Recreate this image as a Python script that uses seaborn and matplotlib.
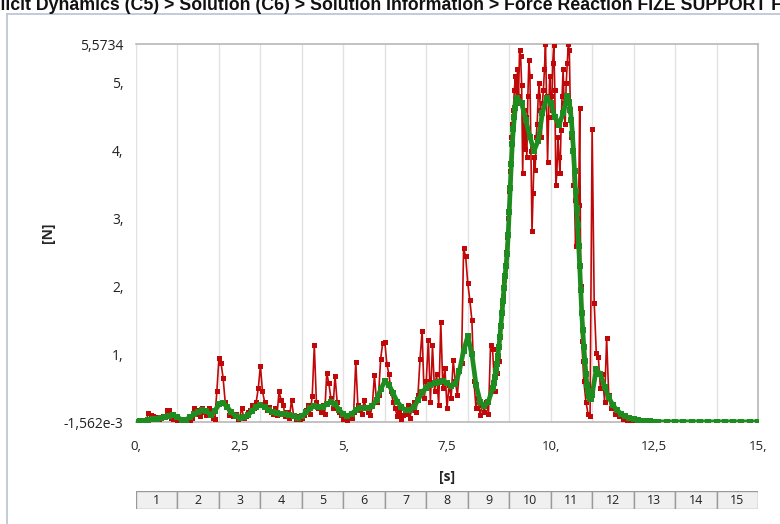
import numpy as np
import pandas as pd
import seaborn as sns
import matplotlib
matplotlib.use("Agg")
import matplotlib.pyplot as plt

# raw force reaction: every 0.05 s up to 8.75 s ...
red_v_a = [
    0.00, 0.00, 0.01, 0.02, 0.03, 0.02, 0.13, 0.10, 0.08, 0.05, 0.07, 0.04, 0.06, 0.09, 0.08, 0.18, 0.17, 0.06, 0.05, 0.04,
    0.02, 0.01, 0.03, 0.01, 0.02, 0.05, 0.03, 0.06, 0.20, 0.12, 0.18, 0.08, 0.21, 0.15, 0.10, 0.20, 0.18, 0.06, 0.04, 0.45,
    0.94, 0.87, 0.65, 0.30, 0.22, 0.10, 0.15, 0.08, 0.12, 0.05, 0.07, 0.20, 0.06, 0.09, 0.14, 0.18, 0.25, 0.20, 0.30, 0.50,
    0.83, 0.45, 0.30, 0.18, 0.22, 0.15, 0.12, 0.20, 0.10, 0.45, 0.32, 0.25, 0.08, 0.14, 0.06, 0.32, 0.10, 0.05, 0.08, 0.04,
    0.06, 0.10, 0.18, 0.25, 0.12, 0.38, 1.13, 0.30, 0.20, 0.15, 0.25, 0.12, 0.72, 0.57, 0.35, 0.20, 0.68, 0.30, 0.15, 0.10,
    0.05, 0.08, 0.03, 0.10, 0.06, 0.15, 0.89, 0.25, 0.18, 0.12, 0.32, 0.20, 0.15, 0.10, 0.25, 0.69, 0.30, 0.40, 0.93, 1.17,
    1.18, 0.85, 0.70, 0.45, 0.30, 0.20, 0.08, 0.15, 0.05, 0.10, 0.12, 0.25, 0.06, 0.18, 0.30, 0.15, 0.40, 0.93, 1.34, 0.35,
    0.60, 1.21, 0.30, 1.13, 0.45, 0.70, 0.25, 1.48, 0.50, 0.80, 0.20, 0.55, 0.35, 0.91, 0.60, 0.40, 0.75, 0.87, 2.56, 2.44,
    2.05, 1.80, 1.50, 0.60, 0.20, 0.35, 0.10, 0.25, 0.15, 0.30, 0.12, 1.13, 1.07, 0.45, 0.72, 0.90,
]
# ... every 0.025 s through the high plateau (8.8 - 10.775 s) ...
red_v_b = [
    1.60, 1.75, 1.85, 2.10, 2.30, 2.50, 2.72, 3.00,
    3.40, 3.70, 4.20, 4.40, 4.60, 4.90, 5.10, 4.70,
    5.20, 4.80, 5.49, 5.40, 4.97, 3.67, 4.60, 4.03,
    4.50, 3.90, 4.80, 5.34, 5.10, 4.00, 2.81, 3.37,
    3.90, 3.71, 4.20, 4.40, 4.80, 5.00, 4.60, 4.20,
    4.70, 4.90, 5.20, 5.57, 4.80, 3.84, 4.50, 5.10,
    4.80, 4.60, 5.30, 5.56, 4.90, 3.50, 3.67, 4.20,
    3.90, 3.67, 4.30, 4.80, 5.20, 4.70, 4.40, 5.00,
    5.30, 5.57, 5.49, 4.58, 4.20, 4.00, 3.50, 3.27,
    2.60, 3.00, 2.60, 3.20, 4.63, 2.00, 1.20, 0.90,
]
# ... and every 0.05 s again from 10.8 to 12.5 s
red_v_c = [
    0.60, 0.30, 0.12, 0.08,
    4.32, 1.76, 1.02, 0.95, 0.50, 0.70, 0.30, 1.23, 0.40, 0.20, 0.25, 0.12, 0.18, 0.08, 0.10, 0.05, 0.07, 0.03, 0.05, 0.02,
    0.03, 0.02, 0.03, 0.01, 0.02, 0.01, 0.01, 0.01, 0.00, 0.00, 0.00,
]
red_t = ([round(i * 0.05, 3) for i in range(len(red_v_a))]
         + [round(8.8 + i * 0.025, 3) for i in range(len(red_v_b))]
         + [round(10.8 + i * 0.05, 3) for i in range(len(red_v_c))])
red_v = red_v_a + red_v_b + red_v_c

# filtered force reaction (denser where it rises and falls fast)
green_t = [
    0.0, 0.1, 0.2, 0.3, 0.4, 0.5, 0.6, 0.7, 0.8, 0.9, 1.0, 1.1, 1.2, 1.3, 1.4, 1.5, 1.6, 1.7, 1.8, 1.9,
    2.0, 2.1, 2.2, 2.3, 2.4, 2.5, 2.6, 2.7, 2.8, 2.9, 3.0, 3.1, 3.2, 3.3, 3.4, 3.5, 3.6, 3.7, 3.8, 3.9,
    4.0, 4.1, 4.2, 4.3, 4.4, 4.5, 4.6, 4.7, 4.8, 4.9, 5.0, 5.1, 5.2, 5.3, 5.4, 5.5, 5.6, 5.7, 5.8, 5.9,
    6.0, 6.1, 6.2, 6.3, 6.4, 6.5, 6.6, 6.7, 6.8, 6.9, 7.0, 7.1, 7.2, 7.3, 7.4, 7.5, 7.6, 7.7, 7.8, 7.9,
    8.0, 8.1, 8.2, 8.3, 8.4, 8.5,
    8.6, 8.625, 8.65, 8.675, 8.7, 8.725, 8.75, 8.775, 8.8, 8.825, 8.85, 8.875, 8.9, 8.925, 8.95, 8.975,
    9.0, 9.025, 9.05, 9.075, 9.1, 9.125, 9.15, 9.175, 9.2,
    9.3, 9.4, 9.5, 9.6, 9.7, 9.8, 9.9, 10.0, 10.1, 10.2, 10.3, 10.4,
    10.45, 10.475, 10.5, 10.525, 10.55, 10.575, 10.6, 10.625, 10.65, 10.675, 10.7, 10.725, 10.75, 10.775,
    10.8, 10.825, 10.85, 10.875, 10.9, 10.925, 10.95, 10.975, 11.0,
    11.1, 11.2, 11.3, 11.4, 11.5, 11.6, 11.7, 11.8, 11.9, 12.0, 12.1, 12.2, 12.3, 12.4, 12.5,
    12.6, 12.8, 13.0, 13.2, 13.4, 13.6, 13.8, 14.0, 14.2, 14.4, 14.6, 14.8, 15.0,
]
green_v = [
    0.00, 0.01, 0.02, 0.03, 0.04, 0.05, 0.06, 0.07, 0.09, 0.10, 0.07, 0.03, 0.03, 0.07, 0.11, 0.14, 0.17, 0.16, 0.10, 0.16,
    0.26, 0.28, 0.22, 0.14, 0.09, 0.06, 0.07, 0.10, 0.16, 0.22, 0.25, 0.22, 0.17, 0.14, 0.13, 0.12, 0.11, 0.10, 0.08, 0.06,
    0.08, 0.14, 0.20, 0.23, 0.22, 0.22, 0.26, 0.29, 0.26, 0.18, 0.11, 0.09, 0.12, 0.17, 0.20, 0.21, 0.21, 0.24, 0.32, 0.48,
    0.60, 0.55, 0.42, 0.30, 0.22, 0.17, 0.17, 0.22, 0.32, 0.44, 0.50, 0.54, 0.57, 0.59, 0.60, 0.57, 0.53, 0.56, 0.75, 1.05,
    1.26, 1.00, 0.55, 0.30, 0.23, 0.30,
    0.50, 0.58, 0.66, 0.75, 0.85, 0.97, 1.10, 1.25, 1.42, 1.60, 1.78, 1.98, 2.15, 2.30, 2.48, 2.75,
    3.10, 3.45, 3.80, 4.10, 4.32, 4.50, 4.63, 4.72, 4.77,
    4.70, 4.45, 4.20, 4.00, 4.15, 4.55, 4.78, 4.70, 4.50, 4.38, 4.55, 4.80,
    4.72, 4.60, 4.45, 4.25, 4.00, 3.70, 3.40, 3.15, 2.90, 2.60, 2.30, 1.95, 1.60, 1.35,
    1.10, 0.90, 0.70, 0.55, 0.45, 0.38, 0.34, 0.34, 0.40,
    0.78, 0.70, 0.52, 0.36, 0.25, 0.17, 0.12, 0.08, 0.06, 0.04, 0.03, 0.02, 0.015, 0.01, 0.005,
    0.0, 0.0, 0.0, 0.0, 0.0, 0.0, 0.0, 0.0, 0.0, 0.0, 0.0, 0.0, 0.0,
]

y_ticks = [-0.001562, 1, 2, 3, 4, 5, 5.5734]
y_labels = ["-1,562e-3", "1,", "2,", "3,", "4,", "5,", "5,5734"]
x_ticks = [0, 2.5, 5, 7.5, 10, 12.5, 15]
x_labels = ["0,", "2,5", "5,", "7,5", "10,", "12,5", "15,"]
steps = list(range(1, 16))

title = "Explicit Dynamics (C5) > Solution (C6) > Solution Information > Force Reaction FIZE SUPPORT FORCE"

sns.set_style("white")
plt.rcParams["font.family"] = ["Open Sans", "DejaVu Sans"]

W, H = 780, 524
fig = plt.figure(figsize=(W / 100, H / 100), dpi=100)

def px(x0, y0, x1, y1):
    return [x0 / W, 1 - y1 / H, (x1 - x0) / W, (y1 - y0) / H]

ax = fig.add_axes(px(136, 44, 758, 422))

red = pd.DataFrame({"t": red_t, "F": red_v})
green = pd.DataFrame({"t": green_t, "F": green_v})
sns.lineplot(data=red, x="t", y="F", ax=ax, color="#c00808", linewidth=1.2,
             marker="s", markersize=3.6, markeredgewidth=0, estimator=None, zorder=3)
sns.lineplot(data=green, x="t", y="F", ax=ax, color="#1e8c1e", linewidth=3.4,
             marker="s", markersize=3.8, markeredgewidth=0, estimator=None, zorder=4)

ax.set_xlim(0, 15)
ax.set_ylim(-0.001562, 5.5734)
for g in range(0, 16):
    ax.axvline(g, color="#e2e2e2", linewidth=1, zorder=1)

ax.set_yticks(y_ticks)
ax.set_yticklabels(y_labels)
ax.set_xticks(x_ticks)
ax.set_xticklabels(x_labels)
ax.tick_params(axis="y", length=5, width=1, color="#909090", labelsize=10, labelcolor="#222222", pad=4)
ax.tick_params(axis="x", length=7, width=1, color="#a0a0a0", labelsize=9.5, labelcolor="#222222", pad=6)

ax.spines["left"].set_visible(False)
for s in ["top", "right", "bottom"]:
    ax.spines[s].set_color("#b8b8b8")
    ax.spines[s].set_linewidth(1.2)

ax.set_xlabel("[s]", fontweight="bold", fontsize=10, labelpad=12)
ax.set_ylabel("[N]", fontweight="bold", fontsize=10)
ax.yaxis.set_label_coords(-0.13, 0.5)

# step strip
sax = fig.add_axes(px(136, 491, 758, 509))
sax.bar([s - 0.5 for s in steps], [1] * len(steps), width=1.0, color="#f0f0f0",
        edgecolor="#9a9a9a", linewidth=1)
for s in steps:
    sax.text(s - 0.5, 0.5, str(s), ha="center", va="center", fontsize=9, color="#222222")
sax.set_xlim(0, 15)
sax.set_ylim(0, 1)
sax.axis("off")

# outer panel frame
fig.add_artist(plt.Line2D([7 / W, 7 / W], [0, 1 - 14 / H], color="#b9c2d3", linewidth=1.2))
fig.add_artist(plt.Line2D([7 / W, 1], [1 - 14 / H, 1 - 14 / H], color="#b9c2d3", linewidth=1.2))

# title, clipped on the left like the screenshot
r = fig.canvas.get_renderer()
probe = fig.text(0, 0, "Exp", fontsize=12.8, fontweight="bold", family="Liberation Sans")
w = probe.get_window_extent(renderer=r).width
probe.remove()
fig.text(-w / W, 1 - 10 / H, title, fontsize=12.8, fontweight="bold", family="Liberation Sans",
         va="baseline", ha="left", color="#111111")

fig.savefig("out.png", dpi=100)
